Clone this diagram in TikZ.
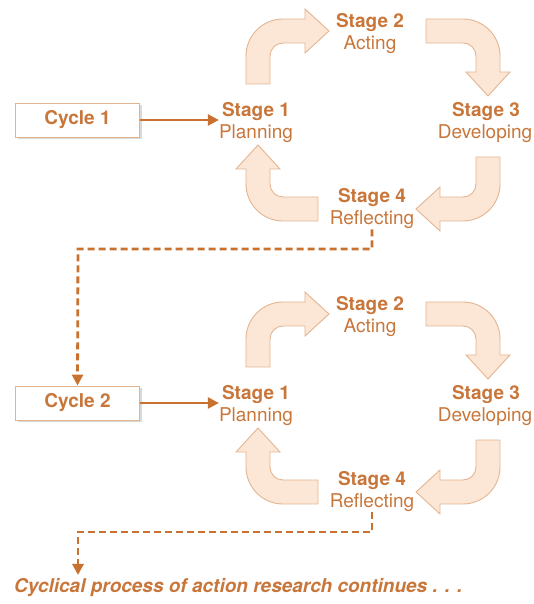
\documentclass[tikz,border=0pt]{standalone}
\usepackage{fontspec}
\setmainfont{TeX Gyre Heros}
\usetikzlibrary{arrows.meta,shadows}
\definecolor{txt}{HTML}{C8763A}
\definecolor{lnc}{HTML}{C9722F}
\definecolor{afill}{HTML}{FCE6D5}
\definecolor{aedge}{HTML}{E3B592}
\definecolor{bedge}{HTML}{E2B48E}
\definecolor{shad}{HTML}{D6D6D6}
\tikzset{
  bigarrow/.style={fill=afill, draw=aedge, line width=0.9pt, line join=miter},
  stitle/.style={font=\fontsize{19}{22}\selectfont\bfseries, text=txt, inner sep=0pt, anchor=base},
  sname/.style={font=\fontsize{19}{22}\selectfont, text=txt, inner sep=0pt, anchor=base},
  cyclebox/.style={draw=bedge, fill=white, line width=0.9pt, minimum width=124pt, minimum height=34pt,
    inner sep=0pt, font=\fontsize{19}{22}\selectfont\bfseries, text=txt,
    drop shadow={shadow xshift=2.5pt, shadow yshift=-2.5pt, fill=shad, opacity=0.9}},
  solidarrow/.style={draw=lnc, line width=2.4pt, -{Triangle[length=11pt,width=11pt]}},
  dasharrow/.style={draw=lnc, line width=2.8pt, dash pattern=on 7pt off 4pt, -{Triangle[length=11pt,width=11pt]}},
  finaltext/.style={font=\fontsize{19}{22}\selectfont\bfseries\itshape, text=txt, inner sep=0pt, anchor=base west}
}
\begin{document}
\begin{tikzpicture}[x=1pt,y=1pt]
\useasboundingbox (0,0) rectangle (533,604);
\foreach \k/\dy in {1/0,2/283}{
\begin{scope}[yshift=-\dy pt]
  % curved arrows
  \path[bigarrow] (246,520) -- (246,548) arc[start angle=180,end angle=90,radius=37pt]
    -- (305,585) -- (305,595) -- (329,573) -- (305,551) -- (305,561) -- (283,561)
    arc[start angle=90,end angle=180,radius=13pt] -- (270,520) -- cycle;
  \path[bigarrow] (426,585) -- (463,585) arc[start angle=90,end angle=0,radius=37pt]
    -- (500,532) -- (510,532) -- (488,508) -- (466,532) -- (476,532) -- (476,548)
    arc[start angle=0,end angle=90,radius=13pt] -- (426,561) -- cycle;
  \path[bigarrow] (500,447) -- (500,420) arc[start angle=0,end angle=-90,radius=37pt]
    -- (440,383) -- (440,373) -- (416,395) -- (440,417) -- (440,407) -- (463,407)
    arc[start angle=-90,end angle=0,radius=13pt] -- (476,447) -- cycle;
  \path[bigarrow] (318,383) -- (283,383) arc[start angle=270,end angle=180,radius=37pt]
    -- (246,435) -- (236,435) -- (258,459) -- (280,435) -- (270,435) -- (270,420)
    arc[start angle=180,end angle=270,radius=13pt] -- (318,407) -- cycle;
  % stage labels
  \node[stitle] (s1t\k) at (256,487) {Stage 1};
  \node[sname]  (s1n\k) at (256,465) {Planning};
  \node[stitle] (s2t\k) at (370,576) {Stage 2};
  \node[sname]  (s2n\k) at (370,554) {Acting};
  \node[stitle] (s3t\k) at (486,487) {Stage 3};
  \node[sname]  (s3n\k) at (485,465) {Developing};
  \node[stitle] (s4t\k) at (372,401) {Stage 4};
  \node[sname]  (s4n\k) at (372,379) {Reflecting};
  % cycle box
  \node[cyclebox] (c\k) at (77.5,484) {Cycle \k};
  \draw[solidarrow, shorten >=3pt] (c\k.east) -- (c\k.east -| s1t\k.west);
\end{scope}
}
% dashed connectors
\coordinate (d1b) at (78,355);
\draw[dasharrow] (s4n1.south) |- (d1b) -- (c2.north);
\coordinate (d2b) at (78,72);
\coordinate (endc) at (78,29);
\draw[dasharrow] (s4n2.south) |- (d2b) -- (endc);
\node[finaltext] (fin) at (14,12) {Cyclical process of action research continues . . .};
\end{tikzpicture}
\end{document}
